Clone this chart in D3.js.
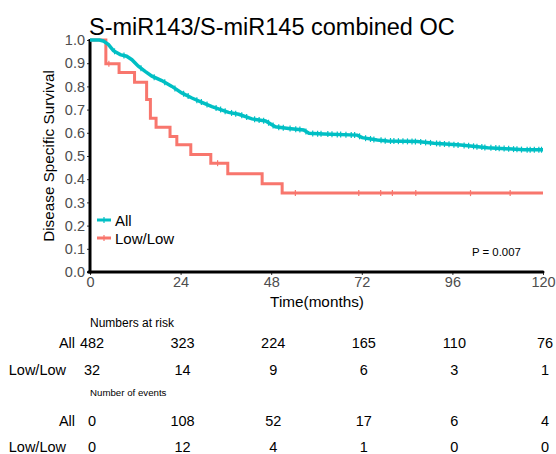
<!DOCTYPE html>
<html lang="en">
<head>
<meta charset="UTF-8">
<style>
  body { margin: 0; background: #fff; }
  svg { font-family: "Liberation Sans", Arial, sans-serif; display: block; }
</style>
</head>
<body>
<svg width="556" height="454"></svg>
<script src="https://d3js.org/d3.v7.min.js"></script>
<script>
  // curves (months, survival)
  let allTime = [0, 2.5, 3.5, 4.9, 6.2, 8.0, 9.7, 11.1, 12.8, 14.6, 16.4, 19.0, 21.7, 24.3, 27.0, 30.1, 32.3, 36.7, 39.4, 42.9, 46.5, 49.1, 52.6, 56.6, 58.0, 61.9, 70.8, 72.1, 76.1, 78.8, 86.7, 91.1, 98.2, 105.3, 115.0, 120]
  let allSurv = [1, 1, 0.996, 0.98, 0.954, 0.937, 0.93, 0.915, 0.887, 0.865, 0.844, 0.825, 0.80, 0.772, 0.75, 0.728, 0.713, 0.688, 0.68, 0.66, 0.651, 0.626, 0.619, 0.612, 0.598, 0.595, 0.59, 0.579, 0.569, 0.565, 0.562, 0.555, 0.547, 0.536, 0.527, 0.527]
  let lowTime = [0, 4.2, 7.7, 11.8, 15.0, 16.0, 17.5, 21.2, 23.0, 26.7, 32.0, 36.5, 45.6, 50.9, 120]
  let lowSurv = [1, 0.898, 0.86, 0.818, 0.744, 0.663, 0.624, 0.584, 0.548, 0.507, 0.469, 0.424, 0.38, 0.34, 0.34]

  // censored times
  let allCensor = [6.5, 9, 13.5, 17, 19.8, 22.5, 24.8, 26, 28.3, 29.5, 31, 33.4, 34.6, 35.8, 37.5, 38.6, 40.2, 41.5, 43.6, 44.8, 46, 47.3, 48.5, 50, 51.2, 53, 54.5, 55.6, 57.2, 59, 60.3, 61.2, 63, 64.1, 65.5, 66.4, 67.8, 69.2, 70.1, 71.4, 73, 74.3, 75.2, 77.1, 78.2, 79.6, 80.5, 81.7, 82.9, 84.1, 85.3, 86.2, 87.6, 88.9, 90.2, 91.8, 92.7, 93.9, 95.1, 96.4, 97.5, 99.1, 100.3, 101.6, 102.5, 103.8, 104.6, 106.2, 107.5, 108.4, 109.7, 110.9, 112.2, 113.1, 114.3, 115.8, 116.6, 117.7, 118.9, 119.6]
  let lowCensor = [5.0, 33.8, 54.4, 71.2, 77.0, 80.1, 86.3, 100.8, 111.3]

  // risk table
  let groups = ["All", "Low/Low"]
  let riskTimes = [0, 24, 48, 72, 96, 120]
  let riskAll = [482, 323, 224, 165, 110, 76]
  let riskLow = [32, 14, 9, 6, 3, 1]
  let eventsAll = [0, 108, 52, 17, 6, 4]
  let eventsLow = [0, 12, 4, 1, 0, 0]
  let yTicks = [0, 0.1, 0.2, 0.3, 0.4, 0.5, 0.6, 0.7, 0.8, 0.9, 1.0]

  let teal = "#00BFC4", red = "#F8766D"

  var svg = d3.select("svg")
  svg.append("rect").attr("width", 556).attr("height", 454).attr("fill", "#fff")

  var x = d3.scaleLinear().domain([0, 120]).range([90, 543])
  var y = d3.scaleLinear().domain([0, 1]).range([272, 40])

  // title
  svg.append("text")
    .attr("x", 89).attr("y", 35)
    .attr("font-size", 23.5)
    .text("S-miR143/S-miR145 combined OC")

  // axes
  var gy = svg.append("g")
    .attr("transform", "translate(90,0)")
    .call(d3.axisLeft(y).tickValues(yTicks).tickFormat(d3.format(".1f")).tickSize(3).tickPadding(2))
  var gx = svg.append("g")
    .attr("transform", "translate(0,272)")
    .call(d3.axisBottom(x).tickValues(riskTimes).tickSize(3).tickPadding(2))
  svg.selectAll(".domain").remove()
  svg.selectAll(".tick line").attr("stroke", "#333")
  svg.selectAll(".tick text")
    .attr("fill", "#4d4d4d")
    .attr("font-size", 14.5)
    .attr("font-family", "Liberation Sans, Arial, sans-serif")

  svg.append("line")
    .attr("x1", 90).attr("x2", 90).attr("y1", 39).attr("y2", 273.5)
    .attr("stroke", "#000").attr("stroke-width", 3)
  svg.append("line")
    .attr("x1", 88.5).attr("x2", 543).attr("y1", 272).attr("y2", 272)
    .attr("stroke", "#000").attr("stroke-width", 3).attr("stroke-linecap", "round")

  svg.append("text")
    .attr("transform", "translate(54,156) rotate(-90)")
    .attr("text-anchor", "middle")
    .attr("font-size", 15.3)
    .text("Disease Specific Survival")

  svg.append("text")
    .attr("x", 317).attr("y", 307)
    .attr("text-anchor", "middle")
    .attr("font-size", 15.3)
    .text("Time(months)")

  // curves
  var stepLine = d3.line().x(d => x(d[0])).y(d => y(d[1])).curve(d3.curveStepAfter)
  var smoothLine = d3.line().x(d => x(d[0])).y(d => y(d[1]))

  let lowPts = lowTime.map((t, i) => [t, lowSurv[i]])
  let allPts = allTime.map((t, i) => [t, allSurv[i]])

  function stepAt(t) {
    let i = d3.bisectRight(lowTime, t) - 1
    return lowSurv[Math.max(i, 0)]
  }
  function linAt(t) {
    let i = d3.bisectRight(allTime, t)
    if (i >= allTime.length) return allSurv[allSurv.length - 1]
    let t0 = allTime[i - 1], t1 = allTime[i]
    let f = (t - t0) / (t1 - t0)
    return allSurv[i - 1] + f * (allSurv[i] - allSurv[i - 1])
  }

  svg.append("path")
    .attr("d", stepLine(lowPts))
    .attr("fill", "none").attr("stroke", red).attr("stroke-width", 3)
  svg.selectAll(".lowc").data(lowCensor).enter().append("line")
    .attr("x1", d => x(d)).attr("x2", d => x(d))
    .attr("y1", d => y(stepAt(d)) - 3).attr("y2", d => y(stepAt(d)) + 3)
    .attr("stroke", red).attr("stroke-width", 1.2)

  svg.append("path")
    .attr("d", smoothLine(allPts))
    .attr("fill", "none").attr("stroke", teal).attr("stroke-width", 3.5)
  svg.selectAll(".allc").data(allCensor).enter().append("line")
    .attr("x1", d => x(d)).attr("x2", d => x(d))
    .attr("y1", d => y(linAt(d)) - 3).attr("y2", d => y(linAt(d)) + 3)
    .attr("stroke", teal).attr("stroke-width", 1.2)

  // legend
  let legY = [220, 238]
  let legCol = [teal, red]
  groups.forEach(function (g, i) {
    svg.append("line")
      .attr("x1", 97).attr("x2", 111).attr("y1", legY[i]).attr("y2", legY[i])
      .attr("stroke", legCol[i]).attr("stroke-width", 3)
    svg.append("line")
      .attr("x1", 104).attr("x2", 104).attr("y1", legY[i] - 3).attr("y2", legY[i] + 3)
      .attr("stroke", legCol[i]).attr("stroke-width", 1.2)
    svg.append("text")
      .attr("x", 115).attr("y", legY[i] + 5.5)
      .attr("font-size", 15)
      .text(g)
  })

  svg.append("text")
    .attr("x", 472).attr("y", 255.5)
    .attr("font-size", 11.4)
    .text("P = 0.007")

  // numbers at risk / events
  svg.append("text").attr("x", 90).attr("y", 327).attr("font-size", 12).text("Numbers at risk")
  svg.append("text").attr("x", 90).attr("y", 396).attr("font-size", 9.7).text("Number of events")

  let rows = [
    { label: groups[0], vals: riskAll, y: 348 },
    { label: groups[1], vals: riskLow, y: 374.5 },
    { label: groups[0], vals: eventsAll, y: 425.5 },
    { label: groups[1], vals: eventsLow, y: 452 }
  ]
  rows.forEach(function (r) {
    svg.append("text")
      .attr("x", r.label == "All" ? 75 : 66).attr("y", r.y)
      .attr("text-anchor", "end")
      .attr("font-size", 14.5)
      .text(r.label)
    svg.selectAll(null).data(r.vals).enter().append("text")
      .attr("x", (d, i) => x(riskTimes[i]) + 2)
      .attr("y", r.y)
      .attr("text-anchor", "middle")
      .attr("font-size", 14.5)
      .text(d => d)
  })
</script>
</body>
</html>
